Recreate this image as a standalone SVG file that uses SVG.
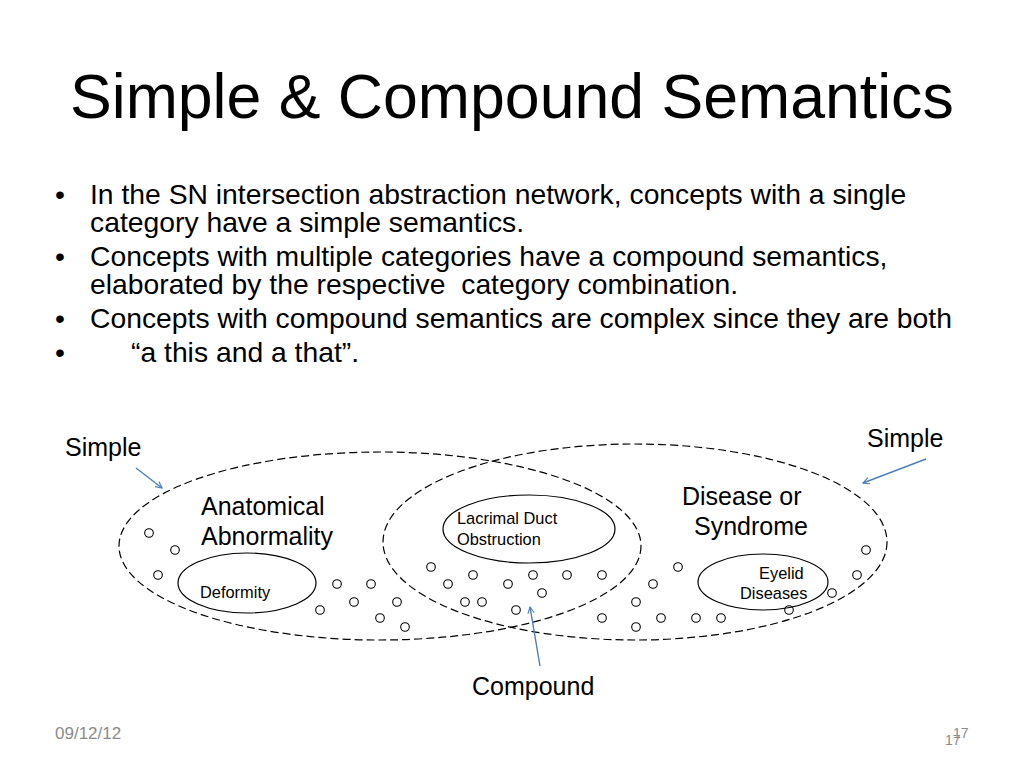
<svg xmlns="http://www.w3.org/2000/svg" width="1024" height="768" viewBox="0 0 1024 768">
<style>
text{font-family:"Liberation Sans",Arial,sans-serif;fill:#000}
.title{font-size:62.6px}
.body{font-size:28.3px}
.lbl{font-size:25px}
.sm{font-size:16.4px}
.foot{font-size:17px;fill:#8b8b8b}
.pg{font-size:14px;fill:#8b8b8b}
.dash{fill:none;stroke:#000;stroke-width:1.2;stroke-dasharray:8 4}
.inner{fill:none;stroke:#000;stroke-width:1.2}
.dot{fill:none;stroke:#000;stroke-width:1.1}
.arr{stroke:#4a7ebb;stroke-width:1.4;fill:none;marker-end:url(#ah)}
</style>
<defs>
<marker id="ah" viewBox="0 0 10 10" refX="9" refY="5" markerWidth="8" markerHeight="8" orient="auto" markerUnits="userSpaceOnUse">
<path d="M1,1 L9,5 L1,9" fill="none" stroke="#4a7ebb" stroke-width="1.4"/>
</marker>
</defs>
<rect width="1024" height="768" fill="#fff"/>
<text class="title" x="70" y="118">Simple &amp; Compound Semantics</text>
<g id="bullets">
<text x="55" y="204" class="body">•</text>
<text x="90" y="204" class="body">In the SN intersection abstraction network, concepts with a single</text>
<text x="90" y="232" class="body">category have a simple semantics.</text>
<text x="55" y="266" class="body">•</text>
<text x="90" y="266" class="body">Concepts with multiple categories have a compound semantics,</text>
<text x="90" y="294" class="body">elaborated by the respective&#160; category combination.</text>
<text x="55" y="328" class="body">•</text>
<text x="90" y="328" class="body">Concepts with compound semantics are complex since they are both</text>
<text x="55" y="362" class="body">•</text>
<text x="131" y="362" class="body">“a this and a that”.</text>
</g>
<g id="anatomical-abnormality">
<ellipse class="dash" cx="380" cy="546" rx="261" ry="94"/>
<text class="lbl" x="201" y="515">Anatomical</text>
<text class="lbl" x="201" y="545">Abnormality</text>
</g>
<g id="disease-or-syndrome">
<ellipse class="dash" cx="635" cy="542" rx="252" ry="98"/>
<text class="lbl" x="682" y="505">Disease or</text>
<text class="lbl" x="694" y="535">Syndrome</text>
</g>
<g id="deformity">
<ellipse class="inner" cx="247" cy="583" rx="69" ry="30"/>
<text class="sm" x="200" y="598">Deformity</text>
</g>
<g id="lacrimal-duct-obstruction">
<ellipse class="inner" cx="529" cy="529" rx="86" ry="34"/>
<text class="sm" x="457" y="524">Lacrimal Duct</text>
<text class="sm" x="457" y="545">Obstruction</text>
</g>
<g id="eyelid-diseases">
<ellipse class="inner" cx="763" cy="582" rx="65" ry="28"/>
<text class="sm" x="759" y="579">Eyelid</text>
<text class="sm" x="740" y="599">Diseases</text>
</g>
<g id="concepts" class="dot">
<circle cx="149" cy="533" r="4.3"/><circle cx="175" cy="550" r="4.3"/><circle cx="158" cy="575" r="4.3"/>
<circle cx="337" cy="584" r="4.3"/><circle cx="371" cy="584" r="4.3"/><circle cx="320" cy="610" r="4.3"/>
<circle cx="354" cy="602" r="4.3"/><circle cx="397" cy="602" r="4.3"/><circle cx="380" cy="618" r="4.3"/>
<circle cx="405" cy="627" r="4.3"/>
<circle cx="431" cy="567" r="4.3"/><circle cx="448" cy="584" r="4.3"/><circle cx="473" cy="575" r="4.3"/>
<circle cx="508" cy="584" r="4.3"/><circle cx="533" cy="575" r="4.3"/><circle cx="567" cy="575" r="4.3"/>
<circle cx="602" cy="575" r="4.3"/><circle cx="542" cy="593" r="4.3"/><circle cx="465" cy="602" r="4.3"/>
<circle cx="482" cy="602" r="4.3"/><circle cx="516" cy="610" r="4.3"/>
<circle cx="653" cy="584" r="4.3"/><circle cx="678" cy="567" r="4.3"/><circle cx="636" cy="602" r="4.3"/>
<circle cx="602" cy="618" r="4.3"/><circle cx="636" cy="627" r="4.3"/><circle cx="661" cy="618" r="4.3"/>
<circle cx="696" cy="618" r="4.3"/><circle cx="721" cy="618" r="4.3"/><circle cx="866" cy="550" r="4.3"/>
<circle cx="857" cy="575" r="4.3"/><circle cx="832" cy="593" r="4.3"/><circle cx="789" cy="610" r="4.3"/>
</g>
<g id="connectors">
<line class="arr" x1="136" y1="468" x2="162" y2="488"/>
<line class="arr" x1="926" y1="459" x2="863" y2="483"/>
<line class="arr" x1="540" y1="666" x2="530" y2="607"/>
</g>
<g id="callouts">
<text class="lbl" x="65" y="456">Simple</text>
<text class="lbl" x="867" y="447">Simple</text>
<text class="lbl" x="472" y="695">Compound</text>
</g>
<g id="footer">
<text class="foot" x="55" y="739">09/12/12</text>
<text class="pg" x="945" y="745">17</text>
<text class="pg" x="953" y="738">17</text>
</g>
</svg>
